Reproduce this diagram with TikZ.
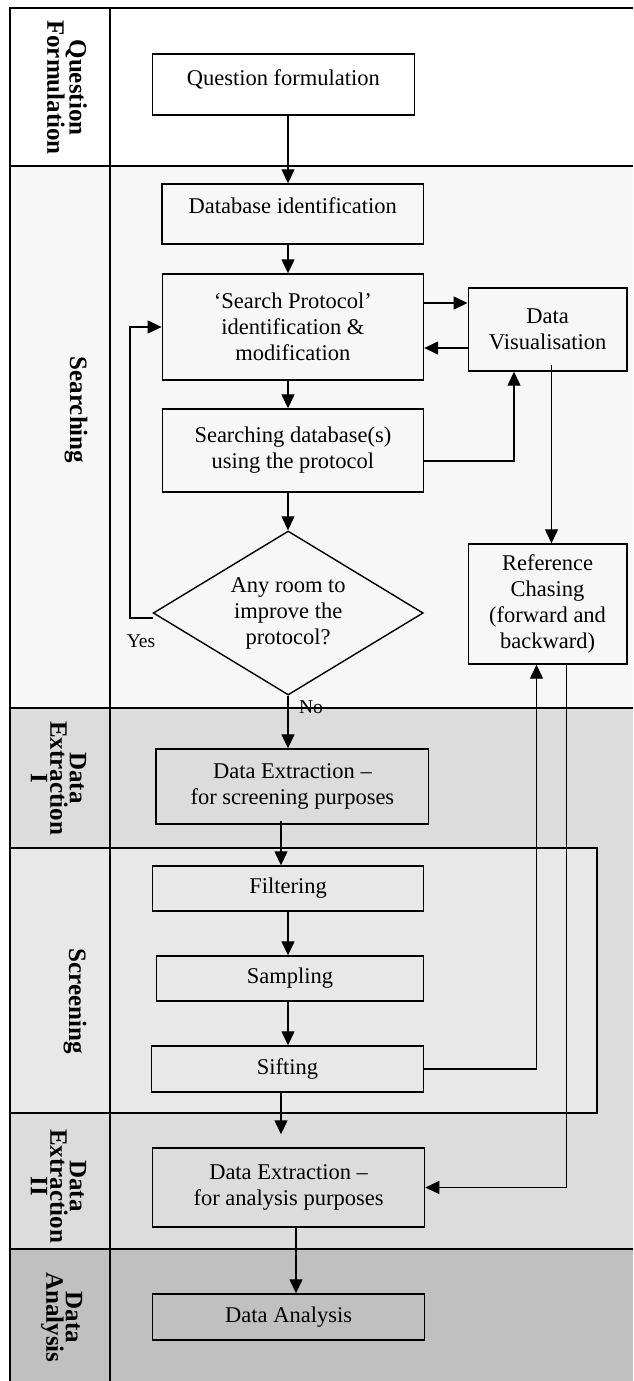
\documentclass[tikz,border=0pt]{standalone}
\usepackage{fontspec}
\setmainfont{Liberation Serif}
\usetikzlibrary{arrows.meta,shapes.geometric}
\definecolor{searchbg}{HTML}{F7F7F7}
\definecolor{extractbg}{HTML}{DCDCDC}
\definecolor{screenbg}{HTML}{E8E8E8}
\definecolor{analysisbg}{HTML}{C0C0C0}
\begin{document}
\begin{tikzpicture}[x=1pt,y=-1pt,
  box/.style={draw, line width=1.4pt, align=center, inner sep=0pt,
    font=\fontsize{22.5}{26}\selectfont},
  lane/.style={rotate=-90, align=center, inner sep=0pt,
    font=\bfseries\fontsize{25}{19.5}\selectfont},
  arr/.style={line width=1.3pt, -{Triangle[length=14pt,width=13pt]}},
  small/.style={inner sep=0pt, font=\fontsize{19.5}{22}\selectfont},
  frame/.style={line width=1.9pt}]
\useasboundingbox (0,0) rectangle (633,1381);

% lane backgrounds
\fill[white] (0,0) rectangle (633,1381);
\fill[searchbg] (10,166) rectangle (633,708);
\fill[extractbg] (10,708) rectangle (633,1249);
\fill[analysisbg] (10,1249) rectangle (633,1381);
\filldraw[fill=screenbg, draw=black, frame] (10,848) rectangle (597,1113);

% lane rules
\draw[frame] (633,8) -- (10,8) -- (10,1381);
\draw[frame] (110,8) -- (110,1381);
\draw[frame] (10,166) -- (633,166);
\draw[frame] (10,708) -- (633,708);
\draw[frame] (10,1249) -- (633,1249);

% lane titles
\node[lane] (lQF) at (67,87.5) {Question\\Formulation};
\node[lane] (lS)  at (76,410) {Searching};
\node[lane] (lE1) at (58.5,778) {Data\\Extraction\\I};
\node[lane] (lSc) at (75,1001) {Screening};
\node[lane] (lE2) at (58.5,1186) {Data\\Extraction\\II};
\node[lane] (lDA) at (61.5,1317.5) {Data\\Analysis};

% column positions of the vertical connectors
\coordinate (cA) at (288,0);
\coordinate (cB) at (281,0);
\coordinate (cC) at (296,0);
\coordinate (cYes) at (130,0);
\coordinate (cV) at (514,0);
\coordinate (cW) at (551.5,0);
\coordinate (cX) at (536.5,0);
\coordinate (cY) at (566.4,0);

% process steps
\node[box, fill=white, minimum width=261.6pt, minimum height=61pt, text depth=14pt]
  (QF) at (283.4,84.5) {Question formulation};
\node[box, minimum width=261.6pt, minimum height=60pt, text depth=16pt]
  (DB) at (292.7,214) {Database identification};
\node[box, minimum width=261.2pt, minimum height=106pt]
  (SP) at (292.9,327) {‘Search Protocol’\\identification \&\\modification};
\node[box, minimum width=158.7pt, minimum height=83pt]
  (DV) at (547.6,329.5) {Data\\Visualisation};
\node[box, minimum width=261.2pt, minimum height=83pt]
  (SD) at (292.9,450.5) {Searching database(s)\\using the protocol};
\node[box, diamond, aspect=1.646, minimum width=270pt, minimum height=164pt]
  (DM) at (288.2,613) {Any room to\\improve the\\protocol?};
\node[box, minimum width=158.7pt, minimum height=120pt]
  (RC) at (547.6,604) {Reference\\Chasing\\(forward and\\backward)};
\node[box, minimum width=272.5pt, minimum height=75pt]
  (DE1) at (292.4,786.5) {Data Extraction –\\for screening purposes};
\node[box, minimum width=271pt, minimum height=45pt]
  (FI) at (288,888.5) {Filtering};
\node[box, minimum width=267.3pt, minimum height=45pt]
  (SA) at (289.9,978.5) {Sampling};
\node[box, minimum width=272pt, minimum height=46pt]
  (SI) at (287.5,1069) {Sifting};
\node[box, minimum width=272pt, minimum height=79pt]
  (DE2) at (288.6,1187.5) {Data Extraction –\\for analysis purposes};
\node[box, minimum width=272pt, minimum height=46pt]
  (DA) at (288.6,1317) {Data Analysis};

% main flow
\draw[arr] (QF.south -| cA) -- (DB.north -| cA);
\draw[arr] (DB.south -| cA) -- (SP.north -| cA);
\draw[arr] (SP.south -| cA) -- (SD.north -| cA);
\draw[arr] (SD.south -| cA) -- (DM.north -| cA);
\draw[arr] (DM.south -| cA) -- (DE1.north -| cA);
\draw[arr, shorten <=-4pt] (DE1.south -| cB) -- (FI.north -| cB);
\draw[arr] (FI.south -| cA) -- (SA.north -| cA);
\draw[arr] (SA.south -| cA) -- (SI.north -| cA);
\draw[arr, shorten >=13pt] (SI.south -| cB) -- (DE2.north -| cB);
\draw[arr] (DE2.south -| cC) -- (DA.north -| cC);

% loop back to the protocol
\draw[arr] ([yshift=-5pt]DM.west) -- ([yshift=-5pt]DM.west -| cYes) |- (SP.west);
\node[small] (yes) at (141,641) {Yes};
\node[small] (no) at (311,707) {No};

% visualisation and reference chasing
\draw[arr] ([yshift=24pt]SP.east) -- ([yshift=24pt]SP.east -| DV.west);
\draw[arr] ([yshift=-21pt]SP.east -| DV.west) -- ([yshift=-21pt]SP.east);
\draw[arr] ([yshift=-10.5pt]SD.east) -| (DV.south -| cV);
\draw[arr, shorten <=-7pt] (DV.south -| cW) -- (RC.north -| cW);
\draw[arr] (SI.east) -| (RC.south -| cX);
\draw[arr] (RC.south -| cY) |- (DE2.east);
\end{tikzpicture}
\end{document}
